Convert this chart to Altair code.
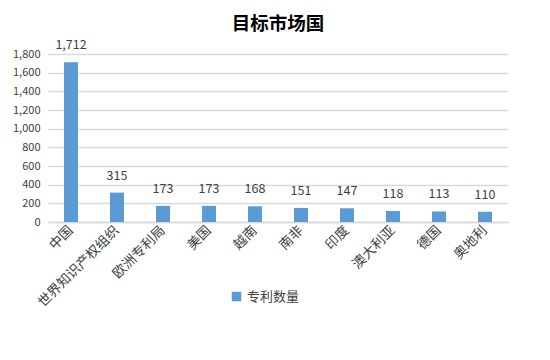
import altair as alt
import pandas as pd

categories = ["中国", "世界知识产权组织", "欧洲专利局", "美国", "越南", "南非", "印度", "澳大利亚", "德国", "奥地利"]
values = [1712, 315, 173, 173, 168, 151, 147, 118, 113, 110]
series_name = "专利数量"
y_ticks = [0, 200, 400, 600, 800, 1000, 1200, 1400, 1600, 1800]

df = pd.DataFrame({"国家": categories, "数量": values, "系列": [series_name] * len(values)})

FONT = "Noto Sans CJK SC"

x = alt.X("国家:N", sort=categories, title=None,
          scale=alt.Scale(paddingInner=0.0, paddingOuter=0.0),
          axis=alt.Axis(labelAngle=-45, labelAlign="right", labelBaseline="middle",
                        labelFontSize=13.5, labelColor="#404040", labelFont=FONT,
                        ticks=False, domainColor="#D9D9D9", domainWidth=1.5,
                        labelPadding=6, labelOverlap=False))
y = alt.Y("数量:Q", title=None,
          scale=alt.Scale(domain=[0, 1800], nice=False),
          axis=alt.Axis(values=y_ticks, format=",d", labelFontSize=11,
                        labelColor="#404040", labelFont=FONT, ticks=False, domain=False,
                        gridColor="#D9D9D9", gridWidth=1.5, labelPadding=8,
                        labelOverlap=False, labelBound=False))

base = alt.Chart(df).encode(x=x, y=y)

bars = base.mark_bar(size=14, color="#5B9BD5").encode(
    color=alt.Color("系列:N", scale=alt.Scale(range=["#5B9BD5"]),
                    legend=alt.Legend(title=None, orient="none", legendX=182, legendY=236,
                                      symbolType="square", symbolSize=90,
                                      labelFontSize=13, labelFont=FONT, labelColor="#404040")))

labels = base.mark_text(dy=-10, baseline="bottom", fontSize=12.5, font=FONT,
                        color="#404040").encode(
    text=alt.Text("数量:Q", format=",d"))

chart = alt.layer(bars, labels).properties(
    width=460, height=168,
    title=alt.Title("目标市场国", fontSize=18.5, font=FONT, fontWeight="bold",
                    color="#000000", anchor="middle", offset=6),
    autosize=alt.AutoSizeParams(type="none"),
    padding={"left": 40, "top": 46, "right": 30, "bottom": 128},
    background="white",
).configure_view(stroke=None)

chart.save("out.html", embed_options={"renderer": "svg", "actions": False})
